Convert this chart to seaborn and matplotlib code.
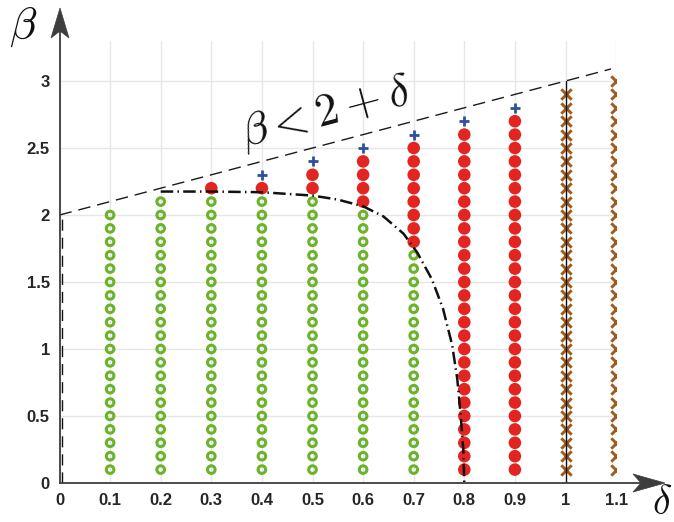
import numpy as np
import pandas as pd
import matplotlib
matplotlib.use("Agg")
import matplotlib.pyplot as plt
import seaborn as sns
from matplotlib.patches import Polygon
from matplotlib.lines import Line2D

# ---------------- data ----------------
deltas = [0.1, 0.2, 0.3, 0.4, 0.5, 0.6, 0.7, 0.8, 0.9, 1.0, 1.1]
# green open circles: beta from 0.1 up to green_top (0 = none)
green_top = [2.0, 2.1, 2.1, 2.1, 2.1, 2.0, 1.7, 0, 0, 0, 0]
# red filled circles: beta from (green_top + 0.1) to red_top (0 = none)
red_top = [0, 0, 2.2, 2.2, 2.3, 2.4, 2.5, 2.6, 2.7, 0, 0]
# blue plus markers (single beta value, None = none)
plus_beta = [None, None, None, 2.3, 2.4, 2.5, 2.6, 2.7, 2.8, None, None]
# brown crosses: beta from 0.1 up to cross_top (0 = none)
cross_top = [0, 0, 0, 0, 0, 0, 0, 0, 0, 2.9, 3.0]

# dash-dot boundary curve
curve_delta = [0.2, 0.3, 0.4, 0.5, 0.55, 0.6, 0.64, 0.68, 0.707, 0.736, 0.758, 0.776, 0.786, 0.793, 0.798, 0.8]
curve_beta = [2.175, 2.175, 2.17, 2.145, 2.115, 2.065, 1.99, 1.86, 1.72, 1.52, 1.30, 1.03, 0.78, 0.50, 0.25, 0.0]

# line beta = 2 + delta
line_delta = [0.0, 1.09]
line_beta = [2.0, 3.09]

x_ticks = [0, 0.1, 0.2, 0.3, 0.4, 0.5, 0.6, 0.7, 0.8, 0.9, 1.0, 1.1]
x_ticklabels = ["0", "0.1", "0.2", "0.3", "0.4", "0.5", "0.6", "0.7", "0.8", "0.9", "1", "1.1"]
y_ticks = [0, 0.5, 1, 1.5, 2, 2.5, 3]
y_ticklabels = ["0", "0.5", "1", "1.5", "2", "2.5", "3"]

# ---------------- build table ----------------
rows = []
for d, g, r, p, c in zip(deltas, green_top, red_top, plus_beta, cross_top):
    n_g = int(round(g * 10))
    for k in range(1, n_g + 1):
        rows.append((d, k / 10, "stable"))
    if r > 0:
        for k in range(n_g + 1, int(round(r * 10)) + 1):
            rows.append((d, k / 10, "unstable"))
    if p is not None:
        rows.append((d, p, "plus"))
    for k in range(1, int(round(c * 10)) + 1):
        rows.append((d, k / 10, "cross"))
df = pd.DataFrame(rows, columns=["delta", "beta", "cls"])

# ---------------- style ----------------
sns.set_theme(style="whitegrid")
plt.rcParams["font.family"] = ["Liberation Sans", "DejaVu Sans"]
plt.rcParams["mathtext.fontset"] = "cm"

W, H = 674, 522
fig = plt.figure(figsize=(W / 100, H / 100), dpi=100)
fig.patch.set_facecolor("white")

x0_px, y0_px = 59.5, 483.0
px_per_dx, px_per_dy = 506.0, 134.0
xmax, ymax = 1.1, 3.3
ax = fig.add_axes([x0_px / W, (H - y0_px) / H, xmax * px_per_dx / W, ymax * px_per_dy / H])
ax.set_facecolor("white")

green = "#6cb32c"
red = "#e32522"
blue = "#2c50a2"
brown = "#a05a1c"

sns.scatterplot(data=df[df.cls == "stable"], x="delta", y="beta", ax=ax,
                marker="o", s=30, color=green, facecolor="none", edgecolor=green,
                linewidth=2.2, zorder=3, legend=False)
sns.scatterplot(data=df[df.cls == "unstable"], x="delta", y="beta", ax=ax,
                marker="o", s=82, color=red, edgecolor="none", linewidth=0,
                zorder=3, legend=False)
sns.scatterplot(data=df[df.cls == "plus"], x="delta", y="beta", ax=ax,
                marker="+", s=58, color=blue, linewidth=2.0, zorder=3, legend=False)
sns.scatterplot(data=df[df.cls == "cross"], x="delta", y="beta", ax=ax,
                marker="x", s=56, color=brown, linewidth=2.1, zorder=3, legend=False)

# lines
ax.plot(line_delta, line_beta, color="#1a1a1a", lw=1.0, dashes=(9, 5), zorder=4, clip_on=False)
ax.plot(curve_delta, curve_beta, color="#111111", lw=1.8, dashes=(5, 1.7, 0.6, 1.7), zorder=4)
ax.plot([0.004, 0.004], [0.0, 2.0], color="#111111", lw=1.0, dashes=(8, 5), zorder=4)
ax.plot([1.0, 1.0], [0.0, 3.0], color="#111111", lw=1.0, zorder=4)

ax.text(0.527, 2.76, r"$\beta < 2 + \delta$", fontsize=33, rotation=15,
        ha="center", va="center", color="#111111", rotation_mode="anchor")

# axes
ax.set_xlim(0, xmax)
ax.set_ylim(0, ymax)
ax.set_xticks(x_ticks)
ax.set_xticklabels(x_ticklabels)
ax.set_yticks(y_ticks)
ax.set_yticklabels(y_ticklabels)
ax.set_xlabel("")
ax.set_ylabel("")
ax.grid(True, color="#e6e6e6", lw=1.0)
for s in ax.spines.values():
    s.set_visible(False)
ax.tick_params(axis="both", direction="in", length=4, width=0.8, color="#404040",
               labelsize=12, labelcolor="#262626")
ax.tick_params(axis="x", pad=7)
ax.tick_params(axis="y", pad=7)
for lab in ax.get_xticklabels() + ax.get_yticklabels():
    lab.set_fontweight("bold")

# axis lines with arrows (figure pixel coordinates, y from top)
def P(x, y):
    return (x, H - y)

axis_col = "#3d3d3d"
fig.add_artist(Line2D([x0_px / W, x0_px / W], [(H - y0_px) / H, (H - 30) / H],
                      transform=fig.transFigure, color=axis_col, lw=1.3))
fig.add_artist(Line2D([x0_px / W, 642 / W], [(H - y0_px) / H, (H - y0_px) / H],
                      transform=fig.transFigure, color=axis_col, lw=1.3))
yarrow = [P(60, 8), P(51, 38), P(60, 31), P(69, 38)]
xarrow = [P(665, 483), P(633, 474), P(641, 483), P(633, 492)]
for pts in (yarrow, xarrow):
    fig.add_artist(Polygon([(px / W, py / H) for px, py in pts], closed=True,
                           transform=fig.transFigure, facecolor=axis_col,
                           edgecolor=axis_col, lw=0.5))

fig.text(23 / W, (H - 27) / H, r"$\beta$", fontsize=32, ha="center", va="center", color="#111111")
fig.text(662 / W, (H - 503) / H, r"$\delta$", fontsize=29, ha="center", va="center", color="#111111")

fig.savefig("out.png", dpi=100, facecolor="white")
